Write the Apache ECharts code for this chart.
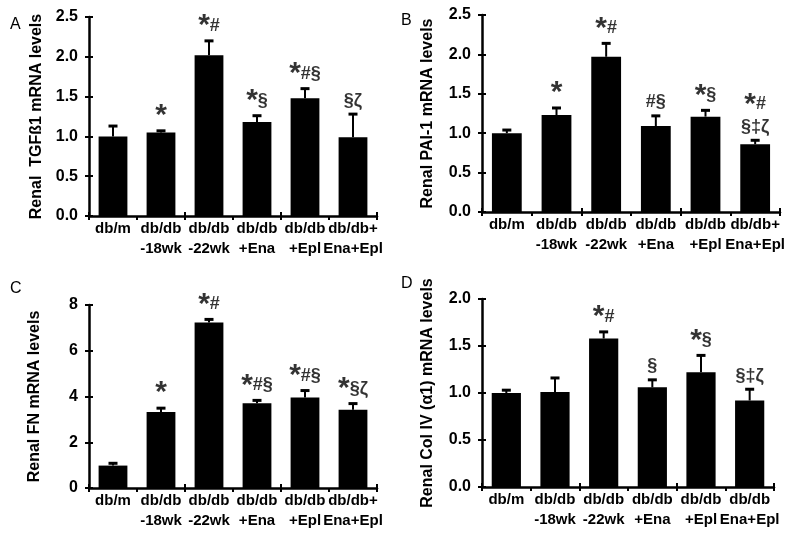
<!DOCTYPE html>
<html>
<head>
<meta charset="utf-8">
<script src="https://cdn.jsdelivr.net/npm/echarts@6/dist/echarts.min.js"></script>
<style>html,body{margin:0;padding:0;background:#fff}#c{width:800px;height:536px}</style>
</head>
<body>
<div id="c"></div>
<script>
const categories = ['db/m', 'db/db\n-18wk', 'db/db\n-22wk', 'db/db\n+Ena', 'db/db\n+Epl', 'db/db+\nEna+Epl'];
const categoriesD = ['db/m', 'db/db\n-18wk', 'db/db\n-22wk', 'db/db\n+Ena', 'db/db\n+Epl', 'db/db\nEna+Epl'];

const tgfMean = [1.00, 1.05, 2.02, 1.18, 1.48, 0.99];
const tgfSE   = [0.13, 0.02, 0.18, 0.08, 0.12, 0.29];
const tgfSig  = ['', '*', '*#', '*§', '*#§', '§ζ'];

const paiMean = [1.00, 1.23, 1.97, 1.09, 1.21, 0.86];
const paiSE   = [0.04, 0.09, 0.17, 0.13, 0.08, 0.05];
const paiSig  = ['', '*', '*#', '#§', '*§', '*#\n§‡ζ'];

const fnMean = [0.98, 3.32, 7.24, 3.71, 3.96, 3.42];
const fnSE   = [0.10, 0.17, 0.13, 0.12, 0.30, 0.27];
const fnSig  = ['', '*', '*#', '*#§', '*#§', '*§ζ'];

const colMean = [1.00, 1.01, 1.58, 1.06, 1.22, 0.92];
const colSE   = [0.03, 0.15, 0.07, 0.08, 0.18, 0.12];
const colSig  = ['', '', '*#', '§', '*§', '§‡ζ'];

const yTicksAB = [0, 0.5, 1.0, 1.5, 2.0, 2.5];
const yTicksC = [0, 2, 4, 6, 8];
const yTicksD = [0, 0.5, 1.0, 1.5, 2.0];

const FONT = 'Liberation Sans, Arial, sans-serif';

const panels = [
  {letter: 'A', name: 'Renal  TGFß1 mRNA levels', cats: categories, mean: tgfMean, se: tgfSE, sig: tgfSig,
   ticks: yTicksAB, dec: 1, grid: {left: 89, top: 17, width: 288, height: 199}, gap: 44, lx: 10, ly: 17},
  {letter: 'B', name: 'Renal PAI-1 mRNA levels', cats: categories, mean: paiMean, se: paiSE, sig: paiSig,
   ticks: yTicksAB, dec: 1, grid: {left: 482, top: 15, width: 298, height: 197}, gap: 46, lx: 401, ly: 13},
  {letter: 'C', name: 'Renal FN mRNA levels', cats: categories, mean: fnMean, se: fnSE, sig: fnSig,
   ticks: yTicksC, dec: 0, grid: {left: 89, top: 305, width: 288, height: 183}, gap: 46, lx: 10, ly: 281},
  {letter: 'D', name: 'Renal Col IV (α1) mRNA levels', cats: categoriesD, mean: colMean, se: colSE, sig: colSig,
   ticks: yTicksD, dec: 1, grid: {left: 482, top: 299, width: 292, height: 188}, gap: 46, lx: 401, ly: 276}
];

function richSig(s) {
  return s.split('\n').map(line => {
    if (!line) return '';
    if (line[0] === '*') {
      const rest = line.slice(1);
      return '{s|*}' + (rest ? '{h|' + rest + '}' : '');
    }
    return '{h|' + line + '}';
  }).join('\n');
}

const grids = [], xAxes = [], yAxes = [], series = [], graphics = [];
panels.forEach((p, gi) => {
  grids.push(Object.assign({containLabel: false}, p.grid));
  const tmin = p.ticks[0], tmax = p.ticks[p.ticks.length - 1], tint = p.ticks[1] - p.ticks[0];
  const axisLine = {show: true, lineStyle: {color: '#000', width: 2.5}};
  xAxes.push({
    type: 'category', gridIndex: gi, data: p.cats, position: 'bottom',
    axisLine: axisLine,
    axisTick: {show: true, inside: false, length: 4, lineStyle: {color: '#000', width: 2}},
    axisLabel: {color: '#000', fontFamily: FONT, fontWeight: 'bold', fontSize: 15, lineHeight: 20, margin: 3, interval: 0},
    splitLine: {show: false}
  });
  xAxes.push({
    type: 'category', gridIndex: gi, data: p.cats, position: 'bottom',
    axisLine: {show: false},
    axisTick: {show: true, inside: true, length: 4, lineStyle: {color: '#000', width: 2}},
    axisLabel: {show: false}, splitLine: {show: false}
  });
  yAxes.push({
    type: 'value', gridIndex: gi, min: tmin, max: tmax, interval: tint, position: 'left',
    name: p.name, nameLocation: 'middle', nameGap: p.gap, nameRotate: 90,
    nameTextStyle: {color: '#000', fontFamily: FONT, fontWeight: 'bold', fontSize: 16},
    axisLine: axisLine,
    axisTick: {show: true, inside: false, length: 4, lineStyle: {color: '#000', width: 2}},
    axisLabel: {color: '#000', fontFamily: FONT, fontWeight: 'bold', fontSize: 16, margin: 11,
      formatter: v => Number(v).toFixed(p.dec)},
    splitLine: {show: false}
  });
  yAxes.push({
    type: 'value', gridIndex: gi, min: tmin, max: tmax, interval: tint, position: 'left',
    axisLine: {show: false},
    axisTick: {show: true, inside: true, length: 4, lineStyle: {color: '#000', width: 2}},
    axisLabel: {show: false}, splitLine: {show: false}
  });
  const xi = gi * 2, yi = gi * 2;
  series.push({
    type: 'bar', xAxisIndex: xi, yAxisIndex: yi, data: p.mean, barWidth: '60%',
    itemStyle: {color: '#000'}, silent: true, z: 2
  });
  series.push({
    type: 'custom', xAxisIndex: xi, yAxisIndex: yi, z: 3, silent: true,
    data: p.mean.map((m, i) => [i, m, m + p.se[i]]),
    encode: {x: 0, y: [1, 2]},
    renderItem: function (params, api) {
      const x = api.value(0), m = api.value(1), t = api.value(2);
      const p0 = api.coord([x, m]), p1 = api.coord([x, t]);
      const w = 9;
      return {type: 'group', children: [
        {type: 'line', shape: {x1: p0[0], y1: p0[1], x2: p1[0], y2: p1[1]}, style: {stroke: '#000', lineWidth: 2}},
        {type: 'line', shape: {x1: p1[0] - w / 2, y1: p1[1], x2: p1[0] + w / 2, y2: p1[1]}, style: {stroke: '#000', lineWidth: 3}}
      ]};
    }
  });
  series.push({
    type: 'scatter', xAxisIndex: xi, yAxisIndex: yi, symbolSize: 0, silent: true, z: 4,
    data: p.mean.map((m, i) => [i, m + p.se[i]]),
    label: {
      show: true, position: 'top', distance: 3, align: 'center',
      formatter: prm => richSig(p.sig[prm.dataIndex]),
      rich: {
        s: {fontSize: 30, fontWeight: 'bold', fontFamily: FONT, color: '#000', lineHeight: 24},
        h: {fontSize: 18, fontWeight: 'bold', fontFamily: FONT, color: '#000', lineHeight: 21}
      }
    }
  });
  graphics.push({type: 'text', left: p.lx, top: p.ly,
    style: {text: p.letter, fontFamily: FONT, fontSize: 16, fill: '#000'}});
});

const chart = echarts.init(document.getElementById('c'), null, {renderer: 'canvas'});
chart.setOption({
  animation: false,
  backgroundColor: '#fff',
  grid: grids, xAxis: xAxes, yAxis: yAxes, series: series, graphic: graphics
});
</script>
</body>
</html>
